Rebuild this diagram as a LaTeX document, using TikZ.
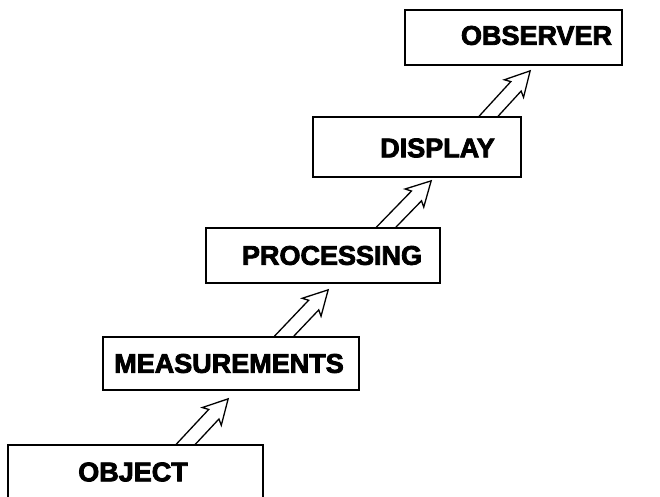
\documentclass[tikz,border=0pt]{standalone}
\usepackage{fontspec}
\newfontfamily\lab{Liberation Sans Bold}[FakeBold=3]
\usetikzlibrary{calc}
\tikzset{
  box/.style={draw, line width=1.7pt, rectangle, inner sep=0pt},
  txt/.style={font=\lab\fontsize{27}{30}\selectfont, inner sep=0pt},
  arrowline/.style={line width=1.3pt, line join=miter},
}
% #1 base centre (on lower box top), #2 tip
\newcommand\hollowarrow[2]{%
  \draw[arrowline] let \p1=(#1), \p2=(#2), \n1={atan2(\y2-\y1,\x2-\x1)} in
    ({\x1-7/sin(\n1)},{\y1})
    -- ({\x2-21*cos(\n1)-7*sin(\n1)},{\y2-21*sin(\n1)+7*cos(\n1)})
    -- ({\x2-24*cos(\n1)-13*sin(\n1)},{\y2-24*sin(\n1)+13*cos(\n1)})
    -- (\p2)
    -- ({\x2-24*cos(\n1)+13*sin(\n1)},{\y2-24*sin(\n1)-13*cos(\n1)})
    -- ({\x2-21*cos(\n1)+7*sin(\n1)},{\y2-21*sin(\n1)-7*cos(\n1)})
    -- ({\x1+7/sin(\n1)},{\y1});
}
\begin{document}
\begin{tikzpicture}[x=1pt,y=-1pt]
\useasboundingbox (0,0) rectangle (660,497);
% boxes
\node[box, minimum width=217pt, minimum height=55pt,
      label={[txt, xshift=23pt, yshift=2pt]center:OBSERVER}] (obs) at (513.5,37.5) {};
\node[box, minimum width=208pt, minimum height=60pt,
      label={[txt, xshift=20.5pt, yshift=-1pt]center:DISPLAY}] (disp) at (417,147) {};
\node[box, minimum width=234pt, minimum height=55pt,
      label={[txt, xshift=9pt]center:PROCESSING}] (proc) at (323,255.5) {};
\node[box, minimum width=256pt, minimum height=53pt,
      label={[txt, xshift=-2pt]center:MEASUREMENTS}] (meas) at (231,363.5) {};
\node[minimum width=255pt, minimum height=52pt, inner sep=0pt,
      label={[txt, xshift=-2.5pt, yshift=-1pt]center:OBJECT}] (obj) at (135.5,471) {};
\draw[line width=1.7pt] (obj.south west) -- (obj.north west) -- (obj.north east) -- (obj.south east);
% arrow ends
\coordinate (b1) at ($(obj.north west)+(177.5,0)$);
\coordinate (t1) at ($(meas.south west)+(126,8)$);
\coordinate (b2) at ($(meas.north west)+(182,0)$);
\coordinate (t2) at ($(proc.south west)+(123,6)$);
\coordinate (b3) at ($(proc.north west)+(181,0)$);
\coordinate (t3) at ($(disp.south west)+(119,3)$);
\coordinate (b4) at ($(disp.north west)+(176.5,0)$);
\coordinate (t4) at ($(obs.south west)+(126,5)$);
\hollowarrow{b1}{t1}
\hollowarrow{b2}{t2}
\hollowarrow{b3}{t3}
\hollowarrow{b4}{t4}
\end{tikzpicture}
\end{document}
